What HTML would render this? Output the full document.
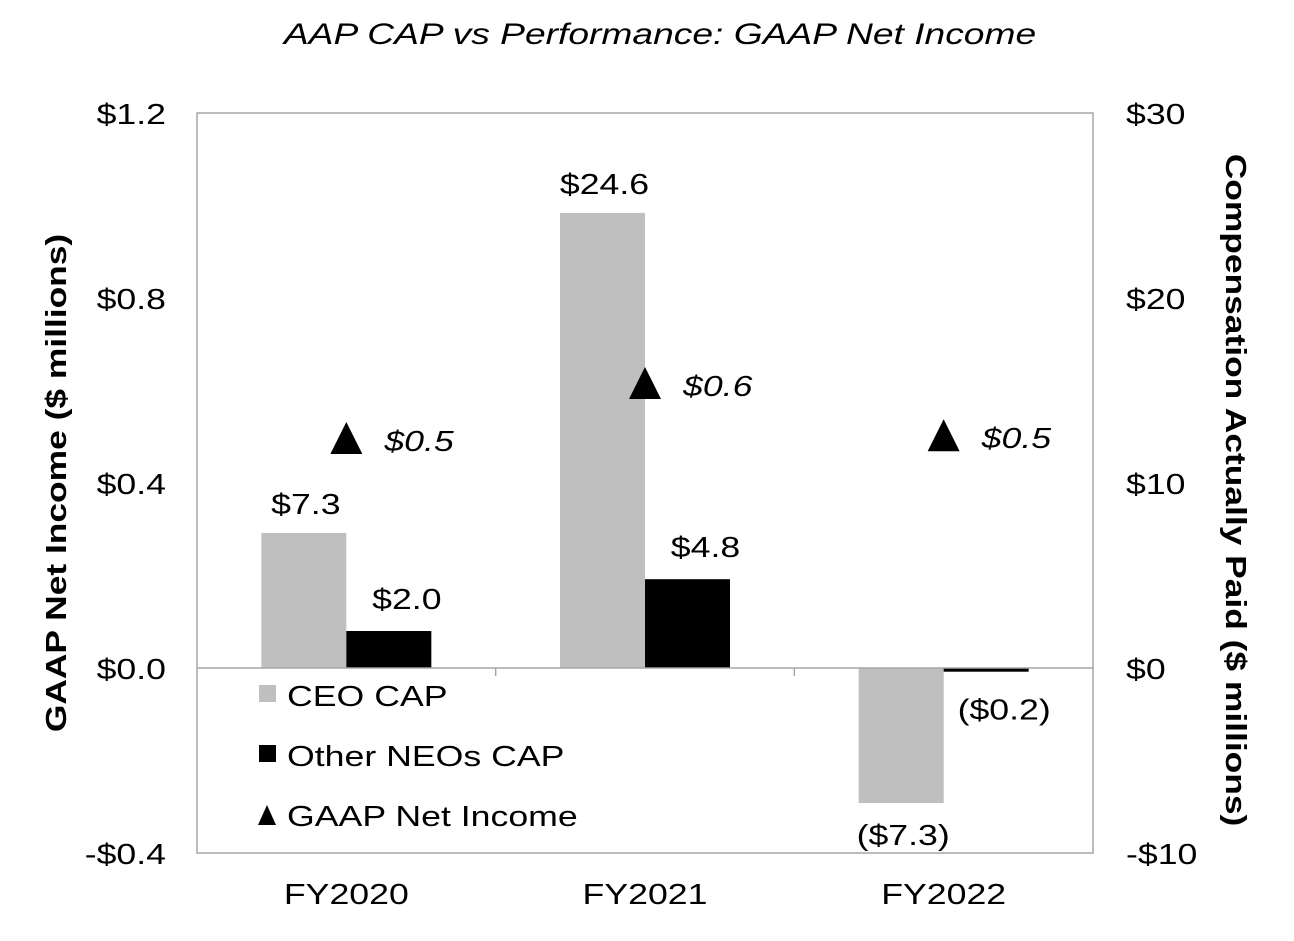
<!DOCTYPE html>
<html><head><meta charset="utf-8"><style>
body{margin:0;background:#fff;}
svg text{font-family:"Liberation Sans",Arial,sans-serif;fill:#000;}
</style></head><body>
<svg width="1294" height="936" viewBox="0 0 1294 936">
<text transform="translate(660,44) scale(1.24,1)" text-anchor="middle" font-size="30" font-style="italic">AAP CAP vs Performance: GAAP Net Income</text>
<rect x="197" y="113" width="896" height="740" fill="#fff" stroke="#a6a6a6" stroke-width="1.5"/>
<g id="axes"></g>
<g id="marks"></g>
<text transform="translate(66,483) rotate(-90) scale(1.22,1)" text-anchor="middle" font-size="29" font-weight="bold">GAAP Net Income ($ millions)</text>
<text transform="translate(1226,490) rotate(90) scale(1.22,1)" text-anchor="middle" font-size="29" font-weight="bold">Compensation Actually Paid ($ millions)</text>
<g>
<rect x="259" y="685" width="17" height="17" fill="#bfbfbf"/>
<text transform="translate(287,706) scale(1.23,1)" font-size="29">CEO CAP</text>
<rect x="259" y="745" width="17" height="17" fill="#000"/>
<text transform="translate(287,766) scale(1.23,1)" font-size="29">Other NEOs CAP</text>
<polygon points="267,805 258,825 276,825" fill="#000"/>
<text transform="translate(287,826) scale(1.23,1)" font-size="29">GAAP Net Income</text>
</g>
</svg>
<script>
const categories=["FY2020","FY2021","FY2022"];
const ceoCap=[7.3,24.6,-7.3];
const neoCap=[2.0,4.8,-0.2];
const netIncome=[0.493,0.612,0.499];
const ceoLabels=["$7.3","$24.6","($7.3)"];
const neoLabels=["$2.0","$4.8","($0.2)"];
const incomeLabels=["$0.5","$0.6","$0.5"];
const leftTicks=[-0.4,0,0.4,0.8,1.2];
const leftTickLabels=["-$0.4","$0.0","$0.4","$0.8","$1.2"];
const rightTicks=[-10,0,10,20,30];
const rightTickLabels=["-$10","$0","$10","$20","$30"];
const X0=197,X1=1093,Y0=113,Y1=853;
const yL=v=>Y1-(v+0.4)/1.6*(Y1-Y0);
const yR=v=>Y1-(v+10)/40*(Y1-Y0);
const band=(X1-X0)/categories.length;
const xc=i=>X0+band*(i+0.5);
const NS="http://www.w3.org/2000/svg";
const SX=1.23;
const axes=document.getElementById('axes'),marks=document.getElementById('marks');
function mk(tag,attrs,parent,txt){const e=document.createElementNS(NS,tag);for(const k in attrs)e.setAttribute(k,attrs[k]);if(txt!==undefined)e.textContent=txt;parent.appendChild(e);return e;}
function tx(x,y,attrs,parent,txt){attrs.transform=`translate(${x},${y}) scale(${SX},1)`;return mk('text',attrs,parent,txt);}
leftTicks.forEach((t,i)=>{const e=tx(166,yL(t)+11,{'text-anchor':'end','font-size':29},axes,leftTickLabels[i]);

});
rightTicks.forEach((t,i)=>{const e=tx(1126,yR(t)+11,{'font-size':29},axes,rightTickLabels[i]);

});
categories.forEach((c,i)=>{const e=tx(xc(i),904,{'text-anchor':'middle','font-size':29},axes,c);

});
const bw=85;
categories.forEach((c,i)=>{
 const cx=xc(i);
 const y0=yR(0);
 let v=ceoCap[i],y=yR(v);
 let r=mk('rect',{x:cx-bw,y:Math.min(y,y0),width:bw,height:Math.abs(y-y0),fill:'#bfbfbf'},marks);
 
 
 let t=tx(cx-bw/2+2,v>=0?y-19:y+42,{'text-anchor':'middle','font-size':29},marks,ceoLabels[i]);
 
 
 v=neoCap[i];y=yR(v);
 r=mk('rect',{x:cx,y:Math.min(y,y0),width:bw,height:Math.max(Math.abs(y-y0),1.5),fill:'#000'},marks);
 
 
 t=tx(cx+bw/2+18,v>=0?y-22:y+48,{'text-anchor':'middle','font-size':29},marks,neoLabels[i]);
 
 
});
const zl=mk('line',{x1:X0,x2:X1,y1:yR(0),y2:yR(0),stroke:'#a6a6a6','stroke-width':1.5},marks);


for(let i=1;i<categories.length;i++){const l=mk('line',{x1:X0+band*i,x2:X0+band*i,y1:yR(0),y2:yR(0)+8,stroke:'#a6a6a6','stroke-width':1.5},marks);

}
categories.forEach((c,i)=>{
 const cx=xc(i),y=yL(netIncome[i]);
 const p=mk('polygon',{points:`${cx},${y-18} ${cx-16},${y+14} ${cx+16},${y+14}`,fill:'#000'},marks);
 
 
 const t=tx(cx+38,y+11,{'font-size':29,'font-style':'italic'},marks,incomeLabels[i]);
 
 
});
</script>
</body></html>
